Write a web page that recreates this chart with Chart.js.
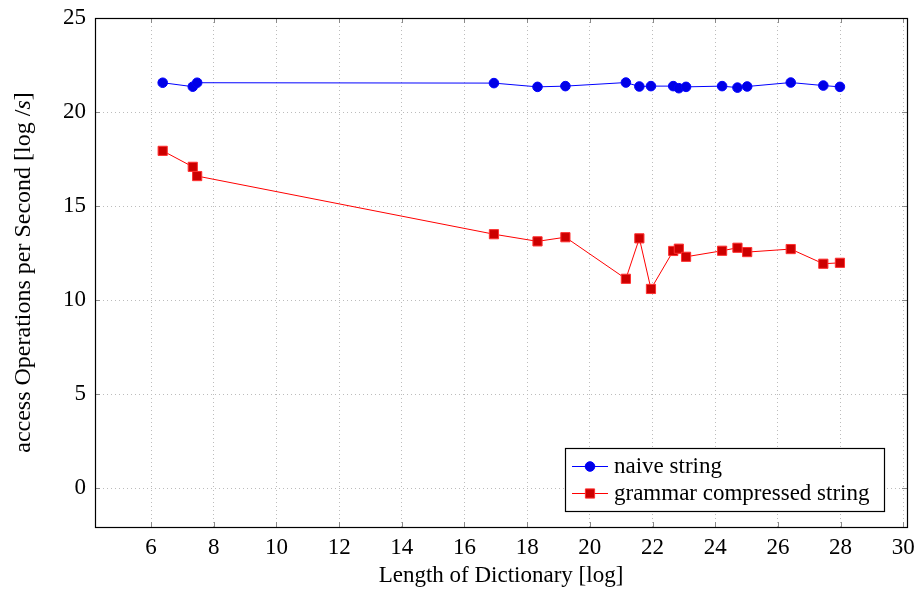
<!DOCTYPE html>
<html>
<head>
<meta charset="utf-8">
<script src="https://cdn.jsdelivr.net/npm/chart.js@4/dist/chart.umd.min.js"></script>
<style>
  html, body { margin: 0; padding: 0; background: #ffffff; }
  #wrap { width: 918px; height: 590px; }
</style>
</head>
<body>
<div id="wrap"><canvas id="chart" width="918" height="590"></canvas></div>
<script>
// Dictionary length (log) for each measurement
const dictLength = [6.37, 7.33, 7.47, 16.94, 18.33, 19.22, 21.15, 21.58, 21.95, 22.66, 22.84, 23.07, 24.22, 24.71, 25.02, 26.41, 27.45, 27.98];
// Access operations per second (log) for the plain string
const naiveOps = [21.56, 21.35, 21.56, 21.54, 21.34, 21.38, 21.57, 21.36, 21.38, 21.38, 21.27, 21.34, 21.38, 21.30, 21.36, 21.57, 21.41, 21.34];
// Access operations per second (log) for the grammar-compressed string
const grammarOps = [17.94, 17.09, 16.60, 13.51, 13.13, 13.35, 11.14, 13.29, 10.60, 12.62, 12.74, 12.31, 12.63, 12.79, 12.56, 12.72, 11.94, 11.99];

const xTicks = [6, 8, 10, 12, 14, 16, 18, 20, 22, 24, 26, 28, 30];
const yTicks = [0, 5, 10, 15, 20, 25];

const seriesNames = ['naive string', 'grammar compressed string'];
const xTitle = 'Length of Dictionary [log]';
const yTitleParts = ['access Operations per Second [log /', 's', ']'];

const FONT_FAMILY = '"Liberation Serif", "Times New Roman", serif';
const FONT_SIZE = 23;
const Y_TITLE_SIZE = 24;

function pairs(xs, ys) {
  return xs.map((x, i) => ({ x: x, y: ys[i] }));
}

// Box around the plot, inward tick marks and axis titles
const framePlugin = {
  id: 'frame',
  beforeDatasetsDraw(chart) {
    const { ctx, chartArea: a, scales } = chart;
    ctx.save();
    ctx.strokeStyle = '#8a8a8a';
    ctx.lineWidth = 1;
    ctx.beginPath();
    xTicks.forEach(v => {
      const px = Math.round(scales.x.getPixelForValue(v)) + 0.5;
      ctx.moveTo(px, a.bottom); ctx.lineTo(px, a.bottom - 5);
      ctx.moveTo(px, a.top); ctx.lineTo(px, a.top + 5);
    });
    yTicks.forEach(v => {
      const py = Math.round(scales.y.getPixelForValue(v)) + 0.5;
      ctx.moveTo(a.left, py); ctx.lineTo(a.left + 5, py);
      ctx.moveTo(a.right, py); ctx.lineTo(a.right - 5, py);
    });
    ctx.stroke();
    ctx.strokeStyle = '#000000';
    ctx.lineWidth = 1.2;
    ctx.strokeRect(Math.round(a.left) + 0.5, Math.round(a.top) + 0.5,
                   Math.round(a.right - a.left), Math.round(a.bottom - a.top));
    ctx.restore();
  },
  afterDraw(chart) {
    const { ctx, chartArea: a } = chart;
    ctx.save();
    ctx.fillStyle = '#000000';
    ctx.font = FONT_SIZE + 'px ' + FONT_FAMILY;
    ctx.textAlign = 'center';
    ctx.textBaseline = 'alphabetic';
    ctx.fillText(xTitle, (a.left + a.right) / 2, 582);

    // vertical title with an italic unit
    const fonts = [Y_TITLE_SIZE + 'px ' + FONT_FAMILY, 'italic ' + Y_TITLE_SIZE + 'px ' + FONT_FAMILY, Y_TITLE_SIZE + 'px ' + FONT_FAMILY];
    const widths = yTitleParts.map((t, i) => { ctx.font = fonts[i]; return ctx.measureText(t).width; });
    const total = widths.reduce((s, w) => s + w, 0);
    ctx.translate(30, (a.top + a.bottom) / 2);
    ctx.rotate(-Math.PI / 2);
    ctx.textAlign = 'left';
    let cx = -total / 2;
    yTitleParts.forEach((t, i) => {
      ctx.font = fonts[i];
      ctx.fillText(t, cx, 0);
      cx += widths[i];
    });
    ctx.restore();
  }
};

// Legend box in the lower right corner of the plot
const legendPlugin = {
  id: 'boxLegend',
  afterDraw(chart) {
    const { ctx } = chart;
    const box = { left: 565, top: 448, right: 884, bottom: 511 };
    const rows = [466, 493];
    ctx.save();
    ctx.fillStyle = '#ffffff';
    ctx.fillRect(box.left, box.top, box.right - box.left, box.bottom - box.top);
    ctx.strokeStyle = '#000000';
    ctx.lineWidth = 1.2;
    ctx.strokeRect(box.left + 0.5, box.top + 0.5, box.right - box.left, box.bottom - box.top);
    chart.data.datasets.forEach((ds, i) => {
      const y = rows[i] + 0.5;
      ctx.strokeStyle = ds.borderColor;
      ctx.lineWidth = ds.borderWidth;
      ctx.beginPath();
      ctx.moveTo(572, y); ctx.lineTo(608, y);
      ctx.stroke();
      ctx.fillStyle = ds.pointBackgroundColor;
      ctx.strokeStyle = ds.pointBorderColor;
      ctx.lineWidth = ds.pointBorderWidth;
      Chart.helpers.drawPoint(ctx, { pointStyle: ds.pointStyle, radius: ds.pointRadius, rotation: 0, borderWidth: ds.pointBorderWidth }, 590, y);
      ctx.fillStyle = '#000000';
      ctx.font = FONT_SIZE + 'px ' + FONT_FAMILY;
      ctx.textAlign = 'left';
      ctx.textBaseline = 'middle';
      ctx.fillText(ds.label, 614, y);
    });
    ctx.restore();
  }
};

const tickFont = { family: FONT_FAMILY, size: FONT_SIZE };

new Chart(document.getElementById('chart'), {
  type: 'line',
  data: {
    datasets: [
      {
        label: seriesNames[0],
        data: pairs(dictLength, naiveOps),
        borderColor: '#0000ff',
        borderWidth: 1,
        pointStyle: 'circle',
        pointRadius: 4.8,
        pointBackgroundColor: '#0000e6',
        pointBorderColor: '#0000ff',
        pointBorderWidth: 1,
        tension: 0
      },
      {
        label: seriesNames[1],
        data: pairs(dictLength, grammarOps),
        borderColor: '#ff0000',
        borderWidth: 1,
        pointStyle: 'rect',
        pointRadius: 6.5,
        pointBackgroundColor: '#cc0000',
        pointBorderColor: '#ff3030',
        pointBorderWidth: 1,
        tension: 0
      }
    ]
  },
  options: {
    responsive: false,
    animation: false,
    layout: { padding: { left: 0, right: 11, top: 18, bottom: 0 } },
    plugins: { legend: { display: false }, tooltip: { enabled: false } },
    scales: {
      x: {
        type: 'linear',
        min: 4.21,
        max: 30.12,
        afterBuildTicks: s => { s.ticks = xTicks.map(v => ({ value: v })); },
        afterFit: s => { s.height = 63; s.paddingLeft = 0; s.paddingRight = 0; },
        grid: { color: '#bcbcbc', lineWidth: 1, drawTicks: false },
        border: { display: false, dash: [1, 3] },
        ticks: { font: tickFont, color: '#000000', padding: 7, maxRotation: 0, autoSkip: false }
      },
      y: {
        type: 'linear',
        min: -2.05,
        max: 25,
        afterBuildTicks: s => { s.ticks = yTicks.map(v => ({ value: v })); },
        afterFit: s => { s.width = 95; s.paddingTop = 0; s.paddingBottom = 0; },
        grid: { color: '#bcbcbc', lineWidth: 1, drawTicks: false },
        border: { display: false, dash: [1, 3] },
        ticks: { font: tickFont, color: '#000000', padding: 9 }
      }
    }
  },
  plugins: [framePlugin, legendPlugin]
});
</script>
</body>
</html>
